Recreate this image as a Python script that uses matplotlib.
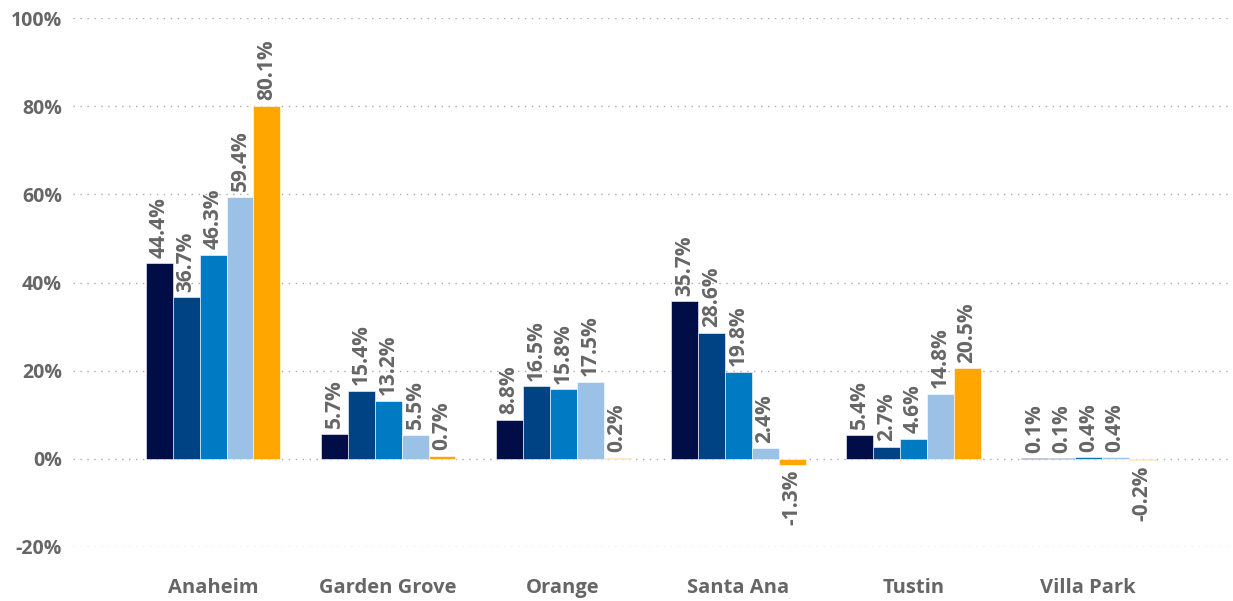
import matplotlib.pyplot as plt
import numpy as np

# categories and series values (percent)
cities = ['Anaheim', 'Garden Grove', 'Orange', 'Santa Ana', 'Tustin', 'Villa Park']
s1 = [44.4, 5.7, 8.8, 35.7, 5.4, 0.1]
s2 = [36.7, 15.4, 16.5, 28.6, 2.7, 0.1]
s3 = [46.3, 13.2, 15.8, 19.8, 4.6, 0.4]
s4 = [59.4, 5.5, 17.5, 2.4, 14.8, 0.4]
s5 = [80.1, 0.7, 0.2, -1.3, 20.5, -0.2]
yticks = [-20, 0, 20, 40, 60, 80, 100]

series = [s1, s2, s3, s4, s5]
colors = ['#000d47', '#004385', '#007bc3', '#9bc2e6', '#ffa600']
gray = '#666666'

plt.rcParams['font.family'] = ['Open Sans', 'DejaVu Sans']

fig = plt.figure(figsize=(12.33, 6.01), dpi=100)
ax = fig.add_axes([0.0592, 0.0899, 0.937, 0.880])

x = np.arange(len(cities))
w = 0.154
for i, (vals, c) in enumerate(zip(series, colors)):
    pos = x + (i - 2) * w
    ax.bar(pos, vals, w, color=c, edgecolor='white', linewidth=0.4, zorder=3)
    for px, v in zip(pos, vals):
        ax.annotate(f'{v:.1f}%', (px, v), xytext=(0, 4 if v >= 0 else -4),
                    textcoords='offset points', rotation=90, ha='center',
                    va='bottom' if v >= 0 else 'top', color=gray,
                    fontsize=15, fontweight='bold')

ax.set_xlim(-0.8, 5.8)
ax.set_ylim(-20, 100)
ax.set_yticks(yticks)
ax.set_yticklabels([f'{t}%' for t in yticks], fontsize=14, fontweight='bold', color=gray)
ax.set_xticks(x)
ax.set_xticklabels(cities, fontsize=14.5, fontweight='bold', color=gray)
ax.tick_params(length=0)
ax.tick_params(axis='x', pad=22)
ax.tick_params(axis='y', pad=8)
ax.grid(axis='y', linestyle=(0, (1, 4)), color='#aaaaaa', linewidth=1, zorder=0)
for s in ax.spines.values():
    s.set_visible(False)

fig.savefig('out.png', dpi=100)
